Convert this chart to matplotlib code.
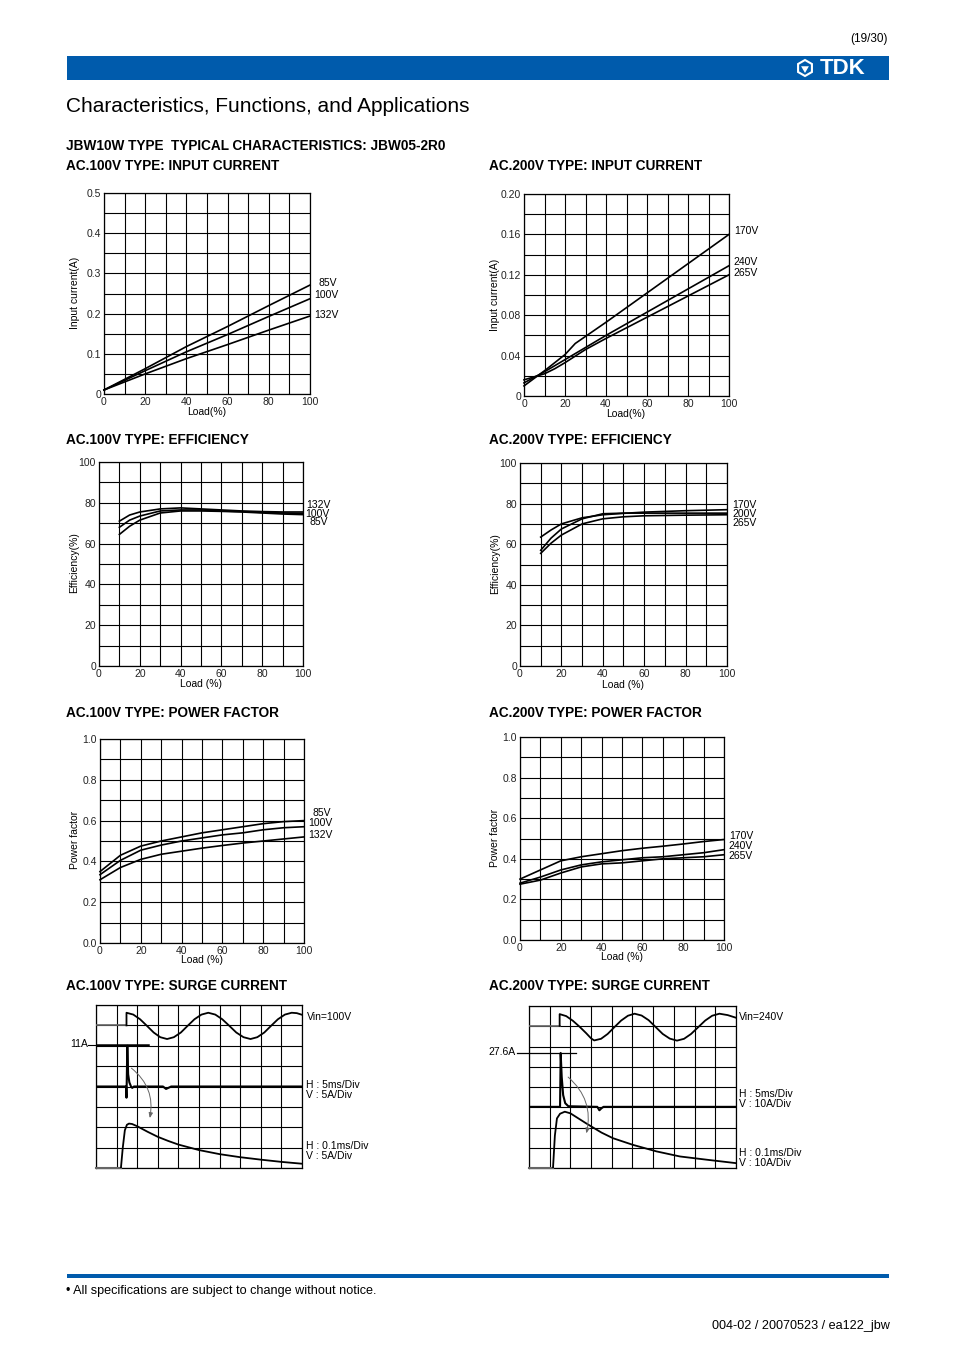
import matplotlib
matplotlib.use("Agg")
import matplotlib.pyplot as plt
from matplotlib.patches import Rectangle, RegularPolygon

plt.rcParams["font.family"] = ["Liberation Sans", "DejaVu Sans"]

W, H = 954, 1351
BLUE = "#005bac"

# --- data read from the sheet ---
# AC.100V input current (A) vs load (%)
in100_load = [0, 20, 40, 60, 80, 100]
in100_85v = [0.010, 0.063, 0.118, 0.168, 0.220, 0.271]
in100_100v = [0.010, 0.058, 0.105, 0.148, 0.193, 0.237]
in100_132v = [0.010, 0.050, 0.088, 0.123, 0.159, 0.194]

# AC.200V input current
in200_170v_load = [0, 10, 20, 25, 30, 40, 60, 80, 100]
in200_170v = [0.010, 0.025, 0.041, 0.052, 0.059, 0.073, 0.102, 0.131, 0.160]
in200_240v_load = [0, 10, 20, 30, 40, 60, 80, 100]
in200_240v = [0.013, 0.024, 0.036, 0.048, 0.060, 0.083, 0.106, 0.129]
in200_265v_load = [0, 10, 15, 20, 30, 40, 60, 80, 100]
in200_265v = [0.016, 0.022, 0.027, 0.033, 0.046, 0.057, 0.078, 0.099, 0.120]

# AC.100V efficiency (%)
eff100_load = [10, 15, 20, 30, 40, 50, 60, 70, 80, 90, 100]
eff100_132v = [71.0, 74.0, 75.5, 77.0, 77.5, 77.0, 76.5, 76.0, 75.7, 75.5, 75.5]
eff100_100v = [68.0, 71.5, 73.5, 76.0, 76.5, 76.5, 76.0, 75.7, 75.3, 75.0, 74.8]
eff100_85v = [64.5, 68.5, 71.5, 75.0, 76.0, 76.0, 75.8, 75.5, 75.0, 74.5, 74.2]

# AC.200V efficiency (%)
eff200_load = [10, 15, 20, 30, 40, 50, 60, 80, 100]
eff200_170v = [63.5, 67.0, 70.0, 73.0, 74.5, 75.2, 75.8, 76.5, 77.0]
eff200_200v = [57.0, 63.0, 67.5, 72.5, 75.0, 75.3, 75.3, 75.3, 75.3]
eff200_265v = [55.5, 60.5, 64.5, 70.0, 72.5, 73.5, 74.0, 74.3, 74.5]

# power factor
pf_load = [0, 10, 20, 30, 40, 50, 60, 70, 80, 90, 100]
pf100_85v = [0.350, 0.430, 0.475, 0.500, 0.520, 0.540, 0.555, 0.570, 0.585, 0.595, 0.600]
pf100_100v = [0.335, 0.405, 0.455, 0.480, 0.500, 0.515, 0.530, 0.540, 0.555, 0.565, 0.570]
pf100_132v = [0.310, 0.370, 0.410, 0.435, 0.450, 0.465, 0.478, 0.490, 0.500, 0.510, 0.520]
pf200_170v = [0.300, 0.345, 0.390, 0.410, 0.425, 0.440, 0.452, 0.462, 0.473, 0.485, 0.495]
pf200_240v = [0.280, 0.310, 0.345, 0.370, 0.385, 0.395, 0.405, 0.410, 0.420, 0.430, 0.445]
pf200_265v = [0.275, 0.295, 0.330, 0.360, 0.375, 0.380, 0.390, 0.400, 0.405, 0.410, 0.420]

# surge current scope traces, in screen divisions (10 x 8)
s1_vin_x = [1.48, 1.81, 2.14, 2.47, 2.80, 3.12, 3.45, 3.78, 4.12, 4.45, 4.78, 5.12, 5.45,
            5.79, 6.13, 6.47, 6.81, 7.16, 7.50, 7.83, 8.17, 8.50, 8.83, 9.17, 9.50, 9.75, 10.0]
s1_vin_y = [7.62, 7.53, 7.30, 6.98, 6.65, 6.42, 6.33, 6.42, 6.65, 6.98, 7.30, 7.53, 7.62,
            7.53, 7.30, 6.98, 6.65, 6.42, 6.33, 6.42, 6.65, 6.98, 7.30, 7.53, 7.62, 7.60, 7.52]
s1_cur_x = [1.46, 1.48, 1.52, 1.56, 1.62, 1.70, 1.76, 1.84, 3.25, 3.40, 3.55, 3.65, 10.0]
s1_cur_y = [4.00, 3.45, 6.00, 4.60, 4.20, 4.00, 3.93, 4.00, 4.00, 3.88, 3.95, 4.00, 4.00]
s1_enl_x = [1.21, 1.30, 1.40, 1.50, 1.60, 1.75, 2.0, 2.5, 3.0, 3.5, 4.0, 5.0, 6.0, 7.0, 8.0, 9.0, 10.0]
s1_enl_y = [0.00, 1.00, 1.85, 2.12, 2.18, 2.16, 2.05, 1.78, 1.53, 1.33, 1.15, 0.88, 0.68, 0.53, 0.41, 0.30, 0.21]

s2_vin_x = [1.48, 1.80, 2.12, 2.44, 2.76, 3.00, 3.15, 3.48, 3.80, 4.12, 4.45, 4.78, 5.10,
            5.44, 5.78, 6.12, 6.46, 6.80, 7.15, 7.49, 7.83, 8.17, 8.51, 8.85, 9.20, 9.60, 10.0]
s2_vin_y = [7.60, 7.50, 7.27, 6.98, 6.66, 6.40, 6.30, 6.38, 6.62, 6.95, 7.28, 7.52, 7.62,
            7.53, 7.30, 6.96, 6.62, 6.39, 6.29, 6.38, 6.62, 6.95, 7.28, 7.52, 7.62, 7.55, 7.42]
s2_cur_x = [1.50, 1.53, 1.58, 1.65, 1.75, 1.90, 3.30, 3.40, 3.50, 3.60, 10.0]
s2_cur_y = [3.02, 5.68, 4.50, 3.60, 3.20, 3.05, 3.02, 2.85, 2.95, 3.02, 3.02]
s2_enl_x = [1.16, 1.25, 1.35, 1.50, 1.73, 2.0, 2.77, 3.5, 4.06, 5.03, 6.16, 7.29, 8.58, 10.0]
s2_enl_y = [0.00, 1.60, 2.45, 2.68, 2.78, 2.70, 2.20, 1.75, 1.47, 1.14, 0.82, 0.57, 0.41, 0.24]

fig = plt.figure(figsize=(W / 100, H / 100), dpi=100)
bg = fig.add_axes([0, 0, 1, 1])
bg.set_xlim(0, W)
bg.set_ylim(H, 0)
bg.axis("off")

SMALL = 7.5


def txt(x, y, s, size=SMALL, **kw):
    kw.setdefault("va", "center")
    bg.text(x, y, s, fontsize=size, **kw)


def panel(l, t, r, b):
    return fig.add_axes([l / W, 1 - b / H, (r - l) / W, (b - t) / H])


def chart(box, ymax, ystep, ylabels):
    ax = panel(*box)
    ax.set_xlim(0, 100)
    ax.set_ylim(0, ymax)
    ax.set_xticks([0, 20, 40, 60, 80, 100])
    ax.set_xticklabels(["0", "20", "40", "60", "80", "100"])
    ax.set_xticks(range(10, 100, 20), minor=True)
    ax.set_yticks([i * ystep for i in range(len(ylabels))])
    ax.set_yticklabels(ylabels)
    ax.set_yticks([(i + 0.5) * ystep for i in range(len(ylabels) - 1)], minor=True)
    ax.grid(which="both", color="black", lw=0.8)
    ax.tick_params(which="both", length=0, labelsize=SMALL, pad=2.2, colors="#222222")
    for sp in ax.spines.values():
        sp.set_linewidth(0.9)
    return ax


def curves(ax, xs, ys):
    for x, y in zip(xs, ys):
        ax.plot(x, y, color="black", lw=1.2, clip_on=False, zorder=3)


# header / footer
txt(888, 39, "(19/30)", 8.5, ha="right")
bg.add_patch(Rectangle((67, 56), 822, 24, color=BLUE, lw=0))
txt(843, 68.5, "TDK", 16, ha="center", color="white", weight="bold")
bg.add_patch(RegularPolygon((805, 68), 6, radius=8, fill=False, ec="white", lw=1.5))
bg.add_patch(RegularPolygon((805, 68.5), 3, radius=4.5, fill=True, color="white", lw=0))
txt(66, 107, "Characteristics, Functions, and Applications", 15)
txt(66, 146, "JBW10W TYPE  TYPICAL CHARACTERISTICS: JBW05-2R0", 9.8, weight="bold")
bg.add_patch(Rectangle((67, 1274), 822, 3.5, color=BLUE, lw=0))
txt(66, 1291, "\u2022 All specifications are subject to change without notice.", 9.1)
txt(890, 1326, "004-02 / 20070523 / ea122_jbw", 9.1, ha="right")

titles = [(66, 166, "AC.100V TYPE: INPUT CURRENT"), (489, 166, "AC.200V TYPE: INPUT CURRENT"),
          (66, 440, "AC.100V TYPE: EFFICIENCY"), (489, 440, "AC.200V TYPE: EFFICIENCY"),
          (66, 713, "AC.100V TYPE: POWER FACTOR"), (489, 713, "AC.200V TYPE: POWER FACTOR"),
          (66, 986, "AC.100V TYPE: SURGE CURRENT"), (489, 986, "AC.200V TYPE: SURGE CURRENT")]
for x, y, s in titles:
    txt(x, y, s, 9.8, weight="bold")

# input current
ax = chart((104, 193, 310, 394), 0.5, 0.1, ["0", "0.1", "0.2", "0.3", "0.4", "0.5"])
curves(ax, [in100_load] * 3, [in100_85v, in100_100v, in100_132v])
txt(319, 283, "85V"); txt(314, 295, "100V"); txt(314, 315, "132V")
txt(75, 293, "Input current(A)", ha="center", rotation=90)
txt(207, 412, "Load(%)", ha="center")

ax = chart((524, 194, 729, 396), 0.2, 0.04, ["0", "0.04", "0.08", "0.12", "0.16", "0.20"])
curves(ax, [in200_170v_load, in200_240v_load, in200_265v_load], [in200_170v, in200_240v, in200_265v])
txt(734, 231, "170V"); txt(733, 262, "240V"); txt(733, 273, "265V")
txt(495, 295, "Input current(A)", ha="center", rotation=90)
txt(626, 414, "Load(%)", ha="center")

# efficiency
ax = chart((99, 462, 303, 666), 100, 20, ["0", "20", "40", "60", "80", "100"])
curves(ax, [eff100_load] * 3, [eff100_132v, eff100_100v, eff100_85v])
txt(306, 505, "132V"); txt(305, 514, "100V"); txt(310, 522, "85V")
txt(74, 563, "Efficiency(%)", ha="center", rotation=90)
txt(201, 684, "Load (%)", ha="center")

ax = chart((520, 463, 727, 666), 100, 20, ["0", "20", "40", "60", "80", "100"])
curves(ax, [eff200_load] * 3, [eff200_170v, eff200_200v, eff200_265v])
txt(732, 505, "170V"); txt(732, 514, "200V"); txt(732, 523, "265V")
txt(495, 564, "Efficiency(%)", ha="center", rotation=90)
txt(623, 685, "Load (%)", ha="center")

# power factor
pf_labels = ["0.0", "0.2", "0.4", "0.6", "0.8", "1.0"]
ax = chart((100, 739, 304, 943), 1.0, 0.2, pf_labels)
curves(ax, [pf_load] * 3, [pf100_85v, pf100_100v, pf100_132v])
txt(313, 813, "85V"); txt(308, 823, "100V"); txt(308, 835, "132V")
txt(75, 840, "Power factor", ha="center", rotation=90)
txt(202, 960, "Load (%)", ha="center")

ax = chart((520, 737, 724, 940), 1.0, 0.2, pf_labels)
curves(ax, [pf_load] * 3, [pf200_170v, pf200_240v, pf200_265v])
txt(729, 836, "170V"); txt(728, 846, "240V"); txt(728, 856, "265V")
txt(495, 838, "Power factor", ha="center", rotation=90)
txt(622, 957, "Load (%)", ha="center")


# surge current screens
def scope(box):
    ax = panel(*box)
    ax.set_xlim(0, 10)
    ax.set_ylim(0, 8)
    ax.set_xticks(range(11))
    ax.set_yticks(range(9))
    ax.set_xticklabels([])
    ax.set_yticklabels([])
    ax.tick_params(length=0)
    ax.grid(color="black", lw=0.8)
    for sp in ax.spines.values():
        sp.set_linewidth(0.9)
    return ax


def trace(ax, vx, vy, cx, cy, ex, ey, vbase, arrow):
    grey = "#666666"
    ax.plot([0, vx[0]], [vbase, vbase], color=grey, lw=1.2, zorder=3)
    ax.plot([vx[0]] + vx, [vbase] + vy, color="black", lw=1.3, zorder=3)
    ax.plot([0] + cx, [cy[0]] + cy, color="black", lw=1.5, zorder=3)
    ax.plot([0, ex[0]], [0, 0], color=grey, lw=1.5, zorder=3, clip_on=False)
    ax.plot(ex, ey, color="black", lw=1.3, zorder=3)
    ax.annotate("", xy=arrow[1], xytext=arrow[0],
                arrowprops=dict(arrowstyle="-|>,head_length=0.3,head_width=0.12", color="#666666",
                                lw=0.7, connectionstyle="arc3,rad=-0.3", shrinkA=0, shrinkB=0))


ax = scope((96, 1005, 302, 1168))
trace(ax, s1_vin_x, s1_vin_y, s1_cur_x, s1_cur_y, s1_enl_x, s1_enl_y, 7.0, ((1.72, 4.9), (2.61, 2.45)))
ax.plot([-0.4, 0], [6.04, 6.04], color="black", lw=0.8, clip_on=False)
ax.plot([0, 2.53], [6.04, 6.04], color="black", lw=1.8, zorder=3)
txt(88, 1044, "11A", ha="right")
txt(126, 1157, "Enlarged view", color="#333333")
txt(307, 1017, "Vin=100V"); txt(306, 1085, "H : 5ms/Div"); txt(306, 1095, "V : 5A/Div")
txt(306, 1146, "H : 0.1ms/Div"); txt(306, 1156, "V : 5A/Div")

ax = scope((529, 1006, 736, 1168))
trace(ax, s2_vin_x, s2_vin_y, s2_cur_x, s2_cur_y, s2_enl_x, s2_enl_y, 7.02, ((1.89, 4.49), (2.77, 1.71)))
ax.plot([-0.58, 2.29], [5.68, 5.68], color="black", lw=0.9, clip_on=False, zorder=3)
txt(516, 1052, "27.6A", ha="right")
txt(560, 1157, "Enlarged view", color="#333333")
txt(739, 1017, "Vin=240V"); txt(739, 1094, "H : 5ms/Div"); txt(739, 1104, "V : 10A/Div")
txt(739, 1153, "H : 0.1ms/Div"); txt(739, 1163, "V : 10A/Div")

fig.savefig("out.png", dpi=100)
